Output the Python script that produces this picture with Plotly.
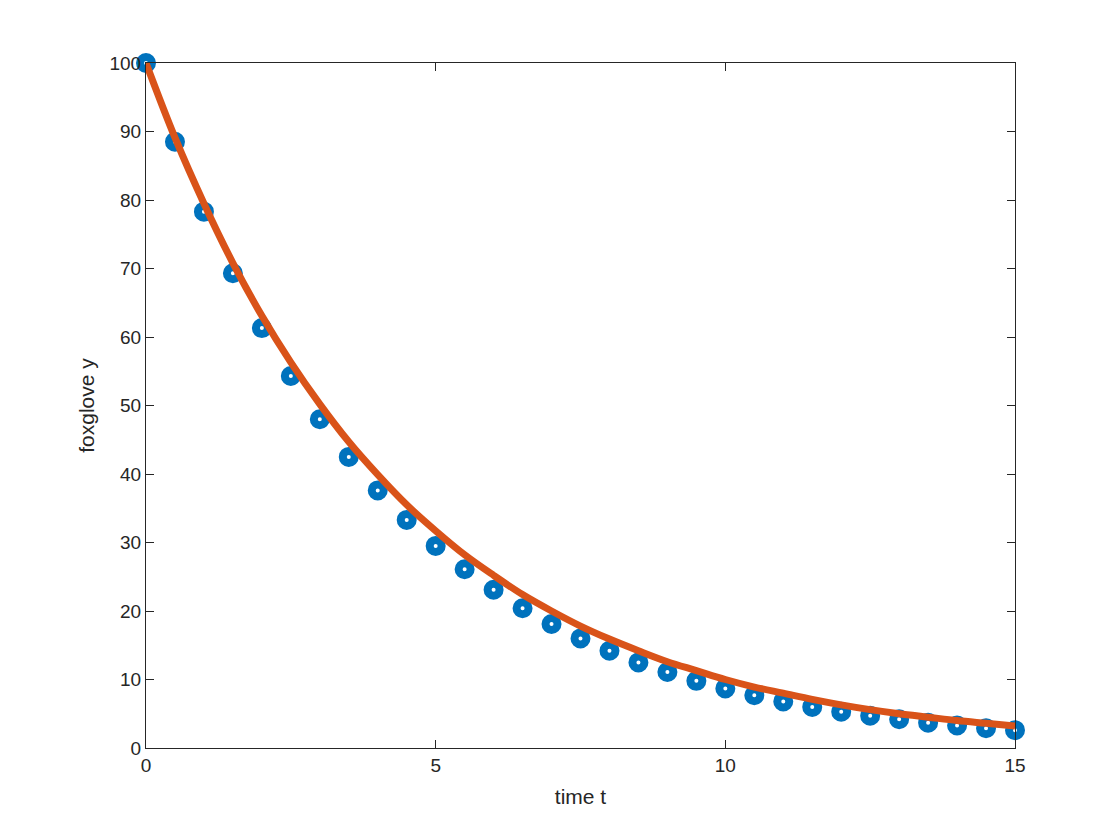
import plotly.graph_objects as go

t_vals = [0, 0.5, 1, 1.5, 2, 2.5, 3, 3.5, 4, 4.5, 5, 5.5, 6, 6.5, 7, 7.5, 8, 8.5,
          9, 9.5, 10, 10.5, 11, 11.5, 12, 12.5, 13, 13.5, 14, 14.5, 15]
euler_y = [100, 88.5, 78.3, 69.3, 61.3, 54.3, 48.0, 42.5, 37.6, 33.3, 29.5, 26.1,
           23.1, 20.4, 18.1, 16.0, 14.2, 12.5, 11.1, 9.8, 8.7, 7.7, 6.8, 6.0, 5.3,
           4.7, 4.2, 3.7, 3.3, 2.9, 2.6]
exact_y = [100, 89.1, 79.5, 70.8, 63.1, 56.3, 50.2, 44.7, 39.9, 35.5, 31.7, 28.2,
           25.2, 22.4, 20.0, 17.8, 15.9, 14.2, 12.6, 11.3, 10.0, 8.9, 8.0, 7.1, 6.3,
           5.6, 5.0, 4.5, 4.0, 3.6, 3.2]

x_ticks = [0, 5, 10, 15]
y_ticks = [0, 10, 20, 30, 40, 50, 60, 70, 80, 90, 100]

fig = go.Figure()
fig.add_trace(go.Scatter(
    x=t_vals, y=euler_y, mode="markers",
    marker=dict(symbol="circle-open", size=12, color="#0072BD",
                line=dict(width=8, color="#0072BD")),
    cliponaxis=False, showlegend=False))
fig.add_trace(go.Scatter(
    x=t_vals, y=exact_y, mode="lines", line_shape="spline",
    line=dict(color="#D95319", width=7), cliponaxis=False, showlegend=False))

axis_common = dict(showgrid=False, zeroline=False, showline=True, mirror="ticks",
                   linecolor="#262626", linewidth=1, ticks="inside", ticklen=8,
                   tickcolor="#262626", tickfont=dict(size=19, color="#262626"))

fig.update_layout(
    width=1120, height=840,
    margin=dict(l=146, r=105, t=63, b=92),
    plot_bgcolor="white", paper_bgcolor="white",
    font=dict(family="Liberation Sans, Arial, Helvetica, sans-serif", color="#262626"),
    xaxis=dict(range=[0, 15], tickvals=x_ticks,
               title=dict(text="time t", font=dict(size=21), standoff=14),
               **axis_common),
    yaxis=dict(range=[0, 100], tickvals=y_ticks,
               title=dict(text="foxglove y", font=dict(size=21), standoff=9),
               **axis_common),
)

fig.write_html("out.html")
